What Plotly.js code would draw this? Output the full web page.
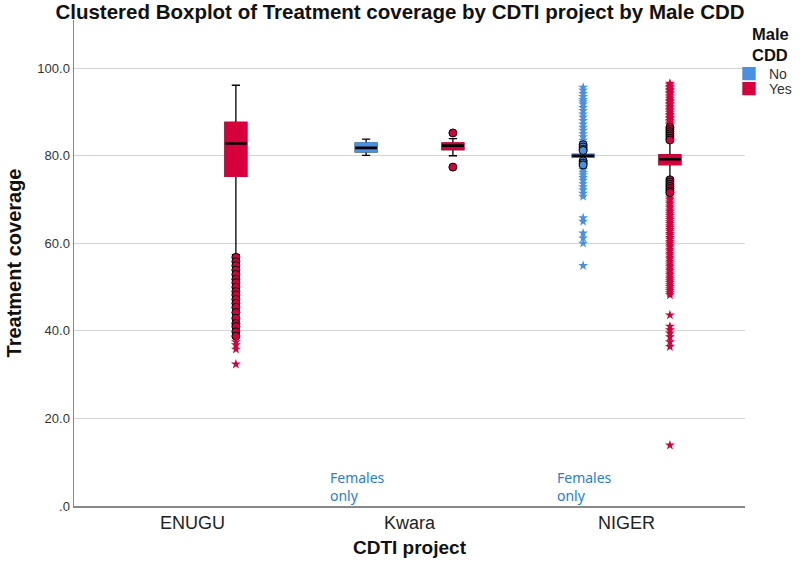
<!DOCTYPE html>
<html>
<head>
<meta charset="utf-8">
<script src="https://cdn.plot.ly/plotly-3.0.1.min.js"></script>
<style>html,body{margin:0;padding:0;background:#fff;}#chart{width:800px;height:575px;}</style>
</head>
<body>
<div id="chart"></div>
<script>
// ---- data ----
const categories = ['ENUGU', 'Kwara', 'NIGER'];
const groups = ['No', 'Yes'];
const groupColors = ['#4A90E2', '#D5003C'];
const legendTitleLines = ['Male', 'CDD'];
const yTickVals = [0, 20, 40, 60, 80, 100];
const yTickText = ['.0', '20.0', '40.0', '60.0', '80.0', '100.0'];

// box statistics, "No" (Male CDD)
const noCats = ['Kwara', 'NIGER'];
const noQ1 = [80.9, 79.7];
const noMedian = [81.8, 80.0];
const noQ3 = [82.9, 80.3];
const noLower = [80.1, 79.0];
const noUpper = [83.8, 81.0];

// box statistics, "Yes" (Male CDD)
const yesCats = ['ENUGU', 'Kwara', 'NIGER'];
const yesQ1 = [75.3, 81.4, 78.0];
const yesMedian = [82.8, 82.3, 79.2];
const yesQ3 = [87.6, 82.9, 80.2];
const yesLower = [57.4, 80.0, 74.9];
const yesUpper = [96.1, 83.9, 83.3];

// outliers (circles) and extremes (stars)
const enuguYesCircles = [56.8, 55.8, 54.9, 53.9, 52.9, 51.8, 51.0, 50.0, 49.0, 48.2, 47.2, 46.3, 45.4, 44.2, 42.9, 41.7, 41.0, 39.8, 38.8];
const enuguYesStars = [37.5, 36.8, 35.8, 32.4];
const kwaraYesCircles = [85.2, 77.4];
const nigerNoCircles = [82.5, 82.0, 81.5, 81.2, 78.8, 78.3, 77.9];
const nigerNoStars = [95.6, 95.0, 94.2, 93.5, 92.8, 92.3, 91.8, 91.0, 90.3, 89.5, 88.8, 88.0, 87.2, 86.5, 85.8, 85.0, 84.3, 83.5, 83.0,
  77.3, 76.8, 76.2, 75.6, 75.0, 74.4, 73.6, 72.9, 72.2, 71.4, 70.7, 65.8, 65.0, 62.3, 61.2, 60.0, 54.9];
const nigerYesCircles = [86.5, 86.0, 85.5, 85.0, 84.5, 84.0, 83.6, 74.5, 74.0, 73.5, 73.0, 72.5, 72.0, 71.6];
const nigerYesStars = [96.5, 96.2, 95.8, 95.5, 95.1, 94.8, 94.4, 94.1, 93.7, 93.4, 93.0, 92.6, 92.3, 91.9, 91.6, 91.2, 90.9, 90.5,
  90.2, 89.8, 89.4, 89.1, 88.7, 88.4, 88.0, 87.7, 87.3, 87.0,
  71.2, 70.8, 70.3, 69.9, 69.4, 69.0, 68.5, 68.1, 67.6, 67.2, 66.7, 66.3, 65.8, 65.4, 64.9, 64.5, 64.0, 63.6, 63.1, 62.7,
  62.2, 61.8, 61.3, 60.9, 60.4, 60.0, 59.5, 59.1, 58.6, 58.2, 57.7, 57.3, 56.8, 56.4, 55.9, 55.5, 55.0, 54.6, 54.1, 53.7,
  53.2, 52.8, 52.3, 51.9, 51.4, 51.0, 50.5, 50.1, 49.6, 49.2, 48.7, 48.2, 43.6, 41.0, 40.2, 39.5, 38.6, 37.5, 36.4, 13.9];

// ---- build ----
const groupOffset = {No: -0.2, Yes: 0.2};
function pos(cat, grp) { return categories.indexOf(cat) + groupOffset[grp]; }

const boxSets = [
  {grp: 'No', legend: 'legend', color: groupColors[0], cats: noCats, q1: noQ1, med: noMedian, q3: noQ3, lo: noLower, hi: noUpper},
  {grp: 'Yes', legend: 'legend2', color: groupColors[1], cats: yesCats, q1: yesQ1, med: yesMedian, q3: yesQ3, lo: yesLower, hi: yesUpper}
];

const traces = [];
const BW = 0.1;
boxSets.forEach(s => {
  const xs = s.cats.map(c => pos(c, s.grp));
  // whiskers + caps (black)
  traces.push({
    type: 'box', x: xs, q1: s.q1, median: s.med, q3: s.q3, lowerfence: s.lo, upperfence: s.hi,
    width: BW, whiskerwidth: 0.38, boxpoints: false, fillcolor: s.color,
    line: {color: '#000', width: 1.3}, showlegend: false, hoverinfo: 'skip'
  });
  // coloured box body (covers the black outline)
  traces.push({
    type: 'box', name: s.grp, legend: s.legend, x: xs, q1: s.q1, median: s.med, q3: s.q3, lowerfence: s.q1, upperfence: s.q3,
    width: BW, whiskerwidth: 0, boxpoints: false, fillcolor: s.color,
    line: {color: s.color, width: 1.4}, showlegend: true
  });
  // black median line
  traces.push({
    type: 'box', x: xs, q1: s.med, median: s.med, q3: s.med, lowerfence: s.med, upperfence: s.med,
    width: BW, whiskerwidth: 0, boxpoints: false, fillcolor: 'rgba(0,0,0,0)',
    line: {color: '#000', width: 2.6}, showlegend: false, hoverinfo: 'skip'
  });
});

const outlierSets = [
  ['ENUGU', 'Yes', 'circle', enuguYesCircles],
  ['ENUGU', 'Yes', 'star', enuguYesStars],
  ['Kwara', 'Yes', 'circle', kwaraYesCircles],
  ['NIGER', 'No', 'star', nigerNoStars],
  ['NIGER', 'No', 'circle', nigerNoCircles],
  ['NIGER', 'Yes', 'star', nigerYesStars],
  ['NIGER', 'Yes', 'circle', nigerYesCircles]
];
outlierSets.forEach(([cat, grp, kind, vals]) => {
  const color = groupColors[groups.indexOf(grp)];
  traces.push({
    type: 'scatter', mode: 'markers', x: vals.map(() => pos(cat, grp)), y: vals,
    marker: kind === 'circle'
      ? {symbol: 'circle', size: 8, color: color, line: {color: '#000', width: 1}}
      : {symbol: 'star', size: 7.5, color: color, line: {width: 0}},
    showlegend: false, hoverinfo: 'y'
  });
});

const legendBase = {
  xref: 'container', yref: 'container', x: 729 / 800, xanchor: 'left', yanchor: 'top',
  font: {size: 14, color: '#333'}, bgcolor: 'rgba(0,0,0,0)', borderwidth: 0, itemwidth: 30
};

const layout = {
  width: 800, height: 575,
  margin: {l: 74, r: 55, t: 20, b: 69, autoexpand: false},
  paper_bgcolor: '#fff', plot_bgcolor: '#fff',
  font: {family: 'Liberation Sans, Arial, sans-serif', color: '#222'},
  title: {
    text: '<b>Clustered Boxplot of Treatment coverage by CDTI project by Male CDD</b>',
    font: {size: 20.5, color: '#111'}, x: 0.5, xref: 'container', xanchor: 'center',
    y: 1 - 12 / 575, yref: 'container', yanchor: 'middle'
  },
  showlegend: true,
  legend: Object.assign({}, legendBase, {y: 1 - 58 / 575}),
  legend2: Object.assign({}, legendBase, {y: 1 - 73 / 575}),
  boxmode: 'overlay',
  xaxis: {
    range: [-0.546, 2.546], tickmode: 'array', tickvals: categories.map((c, i) => i), ticktext: categories,
    showgrid: false, zeroline: false, showline: true, linecolor: '#888', linewidth: 1.5, ticks: '',
    tickfont: {size: 18, color: '#222'}, automargin: false,
    title: {text: '<b>CDTI project</b>', font: {size: 19, color: '#111'}, standoff: 8},
    fixedrange: true
  },
  yaxis: {
    range: [0, 111], tickmode: 'array', tickvals: yTickVals, ticktext: yTickText,
    showgrid: true, gridcolor: '#d4d4d4', gridwidth: 1.2, zeroline: false, showline: true, linecolor: '#888', linewidth: 1.5,
    ticks: '', tickfont: {size: 13, color: '#333'}, automargin: false,
    title: {text: '<b>Treatment coverage</b>', font: {size: 20, color: '#111'}, standoff: 10},
    fixedrange: true
  },
  annotations: [
    {xref: 'x', yref: 'y', x: 0.626, y: 4.5, xanchor: 'left', yanchor: 'middle', align: 'left', showarrow: false,
     text: 'Females<br>only', font: {family: 'Noto Sans, sans-serif', size: 14, color: '#2a7dd1'}},
    {xref: 'x', yref: 'y', x: 1.671, y: 4.5, xanchor: 'left', yanchor: 'middle', align: 'left', showarrow: false,
     text: 'Females<br>only', font: {family: 'Noto Sans, sans-serif', size: 14, color: '#2a7dd1'}},
    {xref: 'paper', yref: 'paper', x: (750 - 74) / 671, y: (506 - 44) / 486,
     xanchor: 'left', yanchor: 'middle', align: 'left', showarrow: false,
     text: '<b>' + legendTitleLines.join('<br>') + '</b>', font: {size: 16.5, color: '#111'}}
  ]
};

Plotly.newPlot('chart', traces, layout, {displayModeBar: false, staticPlot: true});
</script>
</body>
</html>
